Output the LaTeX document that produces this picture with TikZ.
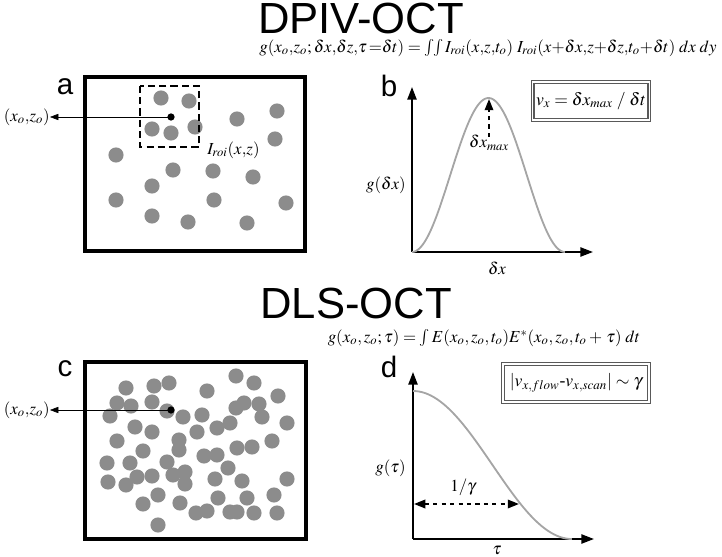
\documentclass[tikz,border=0pt]{standalone}
\usepackage{amsmath}
\usepackage{mathptmx}
\usepackage[no-math]{fontspec}
\setmainfont{Liberation Serif}
\newfontfamily\octSansFont{Liberation Sans}
\usetikzlibrary{arrows.meta}
\definecolor{octParticleGray}{RGB}{140,140,140}
\definecolor{octCurveGray}{RGB}{165,165,165}

\begin{document}
\begin{tikzpicture}[
    x=0.025cm, y=-0.025cm,
    octTitleStyle/.style={font=\octSansFont\fontsize{31}{34}\selectfont, inner sep=0pt},
    octPanelLabelStyle/.style={font=\octSansFont\fontsize{21}{24}\selectfont, inner sep=0pt},
    octFormulaStyle/.style={font=\fontsize{12}{14}\selectfont, inner sep=0pt},
    octFrameStyle/.style={line width=2.8pt},
    octRoiStyle/.style={line width=1.2pt, dash pattern=on 5pt off 3pt},
    octParticleStyle/.style={fill=octParticleGray},
    octAxisStyle/.style={line width=1.4pt, -{Triangle[length=9pt,width=6.5pt]}},
    octCurveStyle/.style={octCurveGray, line width=1.3pt},
    octMarkArrowStyle/.style={line width=1.4pt, dash pattern=on 3pt off 3pt},
    octResultBoxStyle/.style={draw=black!65, double, double distance=1pt, line width=0.85pt,
        inner sep=0pt, font=\fontsize{12.5}{15}\selectfont},
    octPointerStyle/.style={thin, -{Triangle[length=6pt,width=4.5pt]}},
    >=Triangle
]
    \useasboundingbox (0,0) rectangle (722,557);

    % --- DPIV-OCT ---
    \node[octTitleStyle] (dpivTitle) at (361,18) {DPIV-OCT};
    \node[octFormulaStyle] (dpivFormula) at (488,48)
        {$g(x_o{,}z_o;\delta x{,}\delta z{,}\tau\,{=}\delta t) = \int\!\!\int I_{roi}(x{,}z{,}t_o)\;I_{roi}(x{+}\delta x{,}z{+}\delta z{,}t_o{+}\delta t)\;dx\;dy$};

    % panel a: particles
    \node[octPanelLabelStyle] (aLabel) at (65,87) {a};
    \draw[octFrameStyle] (85,77) rectangle (305,251);
    \foreach \px/\py in {161/98, 189/101, 152/129, 171/133, 195/127, 237/119, 277/111,
        275/139, 116/155, 173/170, 213/171, 253/177, 152/186, 116/200, 214/200,
        286/203, 152/216, 188/222, 247/223}
        \fill[octParticleStyle] (\px,\py) circle (5.4pt);
    \draw[octRoiStyle] (140,86) rectangle (199,147);
    \coordinate (aCenter) at (171,117);
    \fill (aCenter) circle (2.6pt);
    \node[octFormulaStyle, anchor=east] (aPoint) at (50,117) {$(x_o{,}z_o)$};
    \draw[octPointerStyle] (aCenter) -- (aPoint.east);
    \node[octFormulaStyle, anchor=west] (aRoi) at (207,150) {$I_{roi}(x{,}z)$};

    % panel b: correlation peak
    \node[octPanelLabelStyle] (bLabel) at (389,86) {b};
    \coordinate (bOrigin) at (412,252);
    \coordinate (bTop) at (412,87);
    \coordinate (bRight) at (593,252);
    \draw[octAxisStyle] (bOrigin) -- (bTop);
    \draw[octAxisStyle] (bOrigin) -- (bRight);
    \draw[octCurveStyle, domain=0:1, samples=80, smooth]
        plot ({412+153*\x}, {252-77*(1-cos(360*\x))});
    \coordinate (bPeak) at (489,99);
    \coordinate (bPeakFoot) at (489,137);
    \draw[octMarkArrowStyle, -{Triangle[length=8pt,width=6pt]}] (bPeakFoot) -- (bPeak);
    \node[octFormulaStyle] (bShift) at (489,143) {$\delta x_{max}$};
    \node[octFormulaStyle, anchor=east] (bAxisY) at (406,185) {$g(\delta x)$};
    \node[octFormulaStyle] (bAxisX) at (497,268) {$\delta x$};
    \node[octResultBoxStyle, minimum width=83pt, minimum height=27pt] (bResult) at (591,101)
        {$v_x = \delta x_{max}\;/\;\delta t$};

    % --- DLS-OCT ---
    \node[octTitleStyle] (dlsTitle) at (356,303) {DLS-OCT};
    \node[octFormulaStyle] (dlsFormula) at (484,338)
        {$g(x_o,z_o;\tau) = \int E(x_o,z_o,t_o)E^{*}(x_o,z_o,t_o+\,\tau)\;dt$};

    % panel c: dense particles
    \node[octPanelLabelStyle] (cLabel) at (65,369) {c};
    \draw[octFrameStyle] (85,362) rectangle (306,539);
    \foreach \px/\py in {126/388, 154/386, 169/383, 207/391, 236/376, 254/383, 278/396,
        117/403, 131/406, 152/402, 167/411, 110/416, 183/417, 202/415, 236/408,
        244/403, 259/404, 262/417, 287/423, 230/423, 217/428, 197/432, 135/427,
        152/432, 117/441, 179/440, 179/450, 143/451, 237/448, 252/447, 272/441,
        204/456, 217/455, 107/463, 130/463, 167/462, 228/468, 185/472, 173/475,
        137/477, 152/476, 108/482, 126/485, 185/484, 215/479, 242/481, 287/479,
        158/495, 143/504, 180/503, 218/498, 247/498, 274/495, 196/513, 207/511,
        230/512, 237/512, 254/513, 277/513, 158/525}
        \fill[octParticleStyle] (\px,\py) circle (5.4pt);
    \coordinate (cCenter) at (171,410);
    \fill (cCenter) circle (2.6pt);
    \node[octFormulaStyle, anchor=east] (cPoint) at (50,410) {$(x_o{,}z_o)$};
    \draw[octPointerStyle] (cCenter) -- (cPoint.east);

    % panel d: decay of correlation
    \node[octPanelLabelStyle] (dLabel) at (389,367) {d};
    \coordinate (dOrigin) at (413,539);
    \coordinate (dTop) at (413,372);
    \coordinate (dRight) at (594,539);
    \draw[octAxisStyle] (dOrigin) -- (dTop);
    \draw[octAxisStyle] (dOrigin) -- (dRight);
    \draw[octCurveStyle, domain=0:1, samples=80, smooth]
        plot ({413+159*\x}, {391+74*(1-cos(180*\x))});
    \coordinate (dWidthLeft) at (414,504);
    \coordinate (dWidthRight) at (519,504);
    \draw[octMarkArrowStyle, {Triangle[length=8pt,width=6pt]}-{Triangle[length=8pt,width=6pt]}]
        (dWidthLeft) -- (dWidthRight);
    \node[octFormulaStyle] (dWidth) at (463,487) {$1/\gamma$};
    \node[octFormulaStyle, anchor=east] (dAxisY) at (406,468) {$g(\tau)$};
    \node[octFormulaStyle] (dAxisX) at (497,550) {$\tau$};
    \node[octResultBoxStyle, minimum width=104pt, minimum height=27pt] (dResult) at (576,383)
        {$|v_{x,flow}\text{-}v_{x,scan}|\sim\gamma$};
\end{tikzpicture}
\end{document}
